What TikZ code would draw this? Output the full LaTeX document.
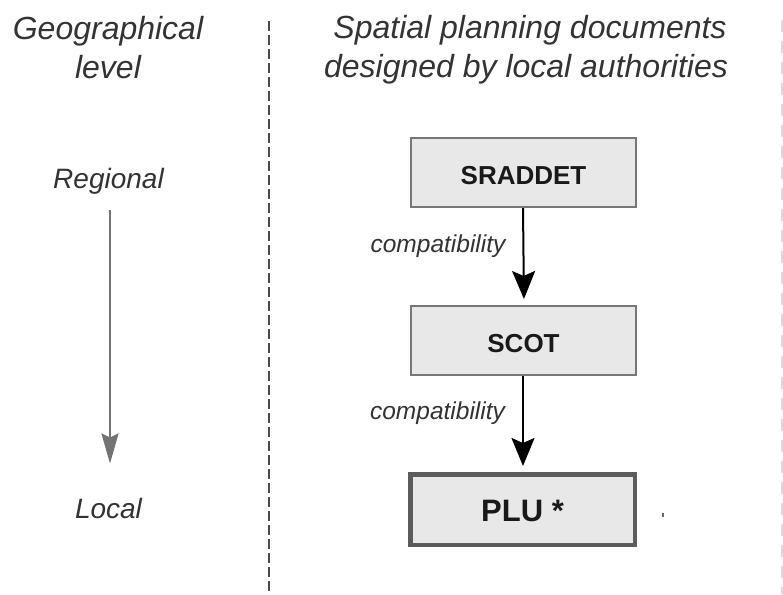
\documentclass[tikz,border=0pt]{standalone}
\usepackage{fontspec}
\setmainfont{Liberation Sans}
\usetikzlibrary{arrows.meta}
\definecolor{ink}{HTML}{333333}
\definecolor{boxfill}{HTML}{E8E8E8}
\definecolor{boxedge}{HTML}{777777}
\definecolor{boxedgedark}{HTML}{5C5C5C}
\definecolor{levelgray}{HTML}{737373}
\definecolor{sepgray}{HTML}{4A4A4A}
\definecolor{fadegray}{HTML}{DADADA}
\tikzset{
  heading/.style={font=\fontsize{32}{38}\selectfont\itshape, text=ink, anchor=base, inner sep=0pt},
  levelname/.style={font=\fontsize{28}{32}\selectfont\itshape, text=ink, anchor=base, inner sep=0pt},
  relation/.style={font=\fontsize{24.5}{28}\selectfont\itshape, text=ink, anchor=base, inner sep=0pt},
  doc/.style={draw=boxedge, fill=boxfill, line width=2pt, minimum width=225pt, minimum height=69pt,
    inner sep=0pt, text=black!90, font=\fontsize{26}{30}\selectfont\bfseries,
    text height=23pt, text depth=0pt},
  maindoc/.style={doc, draw=boxedgedark, line width=4.5pt, minimum width=224.5pt, minimum height=70.5pt,
    font=\fontsize{31}{36}\selectfont\bfseries, text height=24.5pt, text depth=0pt},
  flow/.style={draw=black, line width=2pt, -{Stealth[length=28pt, width=23pt, inset=5pt]}, shorten >=6pt},
  levelarrow/.style={draw=levelgray, line width=2.5pt, -{Stealth[length=30pt, width=17pt, inset=4pt]}},
  separator/.style={draw=sepgray, line width=2.5pt, dash pattern=on 10pt off 4pt},
  faintrule/.style={draw=fadegray, line width=2pt, dash pattern=on 12pt off 9pt}
}
\begin{document}
\begin{tikzpicture}[x=1pt, y=-1pt]
\useasboundingbox[fill=white] (0,0) rectangle (783,594);

% column headings
\node[heading] (geo1) at (108,40) {Geographical};
\node[heading] (geo2) at (108,78) {level};
\node[heading] (plan1) at (530,39) {Spatial planning documents};
\node[heading] (plan2) at (526,77) {designed by local authorities};

% column separators
\coordinate (septop) at (269,21);
\coordinate (sepbot) at (269,594);
\draw[separator] (septop) -- (sepbot);
\coordinate (edgetop) at (782,20);
\coordinate (edgebot) at (782,594);
\draw[faintrule] (edgetop) -- (edgebot);

% geographical levels
\node[levelname] (regional) at (108.5,188) {Regional};
\node[levelname] (local) at (108.5,518) {Local};
\draw[levelarrow, shorten <=16pt, shorten >=34pt]
  ([xshift=1.5pt]regional.south) -- ([xshift=1.5pt]local.north);

% planning documents
\node[doc] (sraddet) at (523.5,172.5) {SRADDET};
\node[doc] (scot) at (523.5,340.5) {SCOT};
\node[maindoc] (plu) at (522.5,509.5) {PLU *};

\draw[flow] ([xshift=-0.5pt]sraddet.south) -- ([xshift=0.5pt]scot.north);
\draw[flow] ([xshift=-0.5pt]scot.south) -- ([xshift=0.5pt]plu.north);

\node[relation] (rel1) at (438,252) {compatibility};
\node[relation] (rel2) at (437.5,419) {compatibility};

% stray mark
\fill[black!60] (662,513) rectangle (664,517);
\end{tikzpicture}
\end{document}
